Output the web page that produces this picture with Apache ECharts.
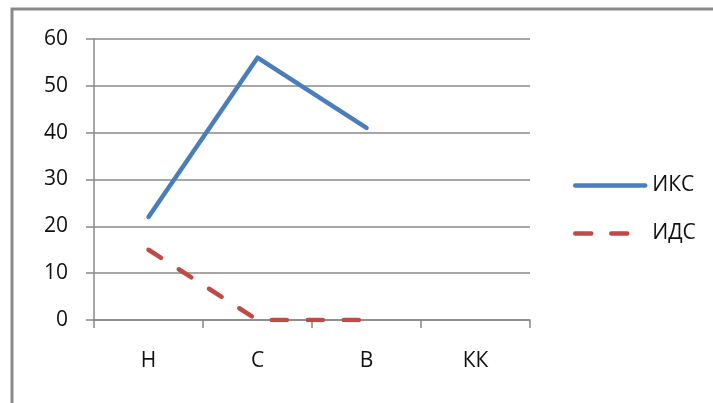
<!DOCTYPE html>
<html>
<head>
<meta charset="utf-8">
<script src="https://cdn.jsdelivr.net/npm/echarts@6/dist/echarts.min.js"></script>
<style>
html,body{margin:0;padding:0;background:#fff;}
#chart{width:713px;height:403px;}
</style>
</head>
<body>
<div id="chart"></div>
<script>
const categories = ['Н', 'С', 'В', 'КК'];
const seriesNames = ['ИКС', 'ИДС'];
const iksValues = [22, 56, 41, null];
const idsValues = [15, 0, 0, null];
const yTicks = [0, 10, 20, 30, 40, 50, 60];

const FONT = 'Open Sans';
const BLUE = '#4a7ebb';
const RED = '#be4b48';
const chart = echarts.init(document.getElementById('chart'), null, {renderer: 'canvas'});
chart.setOption({
  animation: false,
  backgroundColor: '#fff',
  graphic: [{
    type: 'rect',
    shape: {x: 12, y: 9, width: 760, height: 460},
    style: {fill: 'none', stroke: '#8a8a8a', lineWidth: 3},
    silent: true
  }],
  grid: {left: 94, right: 183, top: 39, bottom: 83},
  legend: {
    orient: 'vertical',
    left: 568,
    top: 170,
    padding: 5,
    itemWidth: 70,
    itemHeight: 14,
    itemGap: 27,
    textStyle: {fontFamily: FONT, fontSize: 21, color: '#111', padding: [0, 0, 0, 2]},
    data: [
      {name: seriesNames[0], itemStyle: {opacity: 0}, lineStyle: {color: BLUE, width: 4.5, cap: 'round'}},
      {name: seriesNames[1], itemStyle: {opacity: 0}, lineStyle: {color: RED, width: 4.5, type: [16, 20], cap: 'round'}}
    ]
  },
  xAxis: {
    type: 'category',
    data: categories,
    boundaryGap: true,
    axisLine: {lineStyle: {color: '#888', width: 1.5}},
    axisTick: {show: true, length: 8, lineStyle: {color: '#888', width: 1.5}},
    axisLabel: {fontFamily: FONT, fontSize: 21, color: '#111', margin: 31}
  },
  yAxis: {
    type: 'value',
    min: yTicks[0],
    max: yTicks[yTicks.length - 1],
    interval: 10,
    axisLine: {show: true, lineStyle: {color: '#888', width: 1.5}},
    axisTick: {show: true, length: 8, lineStyle: {color: '#888', width: 1.5}},
    axisLabel: {fontFamily: FONT, fontSize: 21, color: '#111', margin: 26},
    splitLine: {lineStyle: {color: '#888', width: 1.5}}
  },
  series: [
    {
      name: seriesNames[0],
      type: 'line',
      data: iksValues,
      symbol: 'none',
      color: BLUE,
      lineStyle: {color: BLUE, width: 4.5, cap: 'round', join: 'round'}
    },
    {
      name: seriesNames[1],
      type: 'line',
      data: idsValues,
      symbol: 'none',
      color: RED,
      lineStyle: {color: RED, width: 4.5, type: [15, 21], cap: 'round', join: 'round'}
    }
  ]
});
</script>
</body>
</html>
